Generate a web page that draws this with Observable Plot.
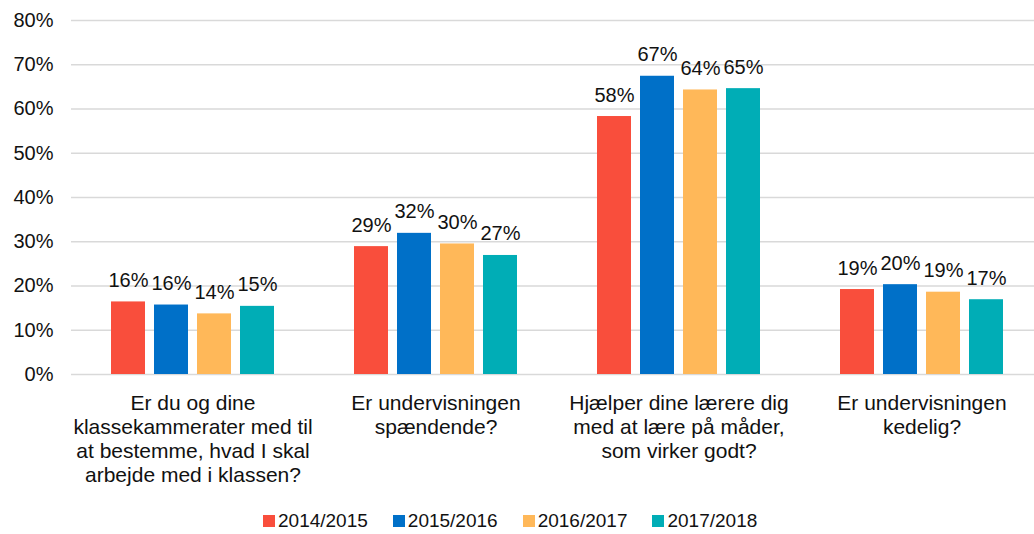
<!DOCTYPE html>
<html>
<head>
<meta charset="utf-8">
<script src="https://cdn.jsdelivr.net/npm/d3@7"></script>
<script src="https://cdn.jsdelivr.net/npm/@observablehq/plot@0.6"></script>
<style>
  html, body { margin: 0; padding: 0; background: #fff; overflow: hidden; }
  body { width: 1034px; height: 534px; position: relative; font-family: "Liberation Sans", Arial, sans-serif; }
  #chart { position: absolute; left: 0; top: 0; width: 1044px; }
  #chart svg { max-width: none !important; }
  #legend { position: absolute; left: 263px; top: 509px; display: flex; align-items: center; font-size: 19px; color: #111; line-height: 24px; }
  #legend .item { display: flex; align-items: center; margin-right: 25px; }
  #legend .sw { width: 12px; height: 12px; margin-right: 3px; }
</style>
</head>
<body>
<div id="chart"></div>
<div id="legend"></div>
<script>
const questions = [
  "Er du og dine\nklassekammerater med til\nat bestemme, hvad I skal\narbejde med i klassen?",
  "Er undervisningen\nspændende?",
  "Hjælper dine lærere dig\nmed at lære på måder,\nsom virker godt?",
  "Er undervisningen\nkedelig?"
];
const years = ["2014/2015", "2015/2016", "2016/2017", "2017/2018"];
const colors = ["#f94e3c", "#0070c8", "#ffb859", "#00adb6"];
const v2014 = [16.4, 28.9, 58.3, 19.2];
const v2015 = [15.7, 31.9, 67.4, 20.3];
const v2016 = [13.7, 29.5, 64.3, 18.6];
const v2017 = [15.4, 26.9, 64.6, 16.9];
const yTicks = [0, 10, 20, 30, 40, 50, 60, 70, 80];

const series = [v2014, v2015, v2016, v2017];
const data = [];
questions.forEach((q, i) => {
  years.forEach((yr, j) => {
    data.push({q, year: yr, value: series[j][i]});
  });
});

const textColor = "#111";
const chart = Plot.plot({
  width: 1044,
  height: 490,
  marginLeft: 70,
  marginRight: 0,
  marginTop: 20,
  marginBottom: 116,
  style: {fontFamily: "Liberation Sans, Arial, sans-serif", fontSize: "20px", color: textColor, background: "#fff", maxWidth: "none"},
  fx: {domain: questions, padding: 0, label: null, axis: null},
  x: {domain: years, paddingInner: 0.2, paddingOuter: 0.9, axis: null},
  y: {domain: [0, 80], ticks: yTicks, label: null},
  color: {domain: years, range: colors},
  marks: [
    Plot.gridY(yTicks, {stroke: "#d9d9d9", strokeOpacity: 1, strokeWidth: 1.5}),
    Plot.axisY(yTicks, {tickSize: 0, tickPadding: 18, tickFormat: d => d + "%", fontSize: 20, fill: textColor, label: null}),
    Plot.axisFx({anchor: "bottom", tickSize: 0, tickPadding: 18, fontSize: 21, lineHeight: 1.15, fill: textColor, label: null}),
    Plot.barY(data, {fx: "q", x: "year", y: "value", fill: "year"}),
    Plot.text(data, {fx: "q", x: "year", y: "value", text: d => Math.round(d.value) + "%", dy: -15, lineAnchor: "bottom", fontSize: 20, fill: textColor})
  ]
});
chart.style.maxWidth = "none";
document.getElementById("chart").appendChild(chart);

const legend = document.getElementById("legend");
years.forEach((yr, j) => {
  const it = document.createElement("div");
  it.className = "item";
  const sw = document.createElement("div");
  sw.className = "sw";
  sw.style.background = colors[j];
  const t = document.createElement("span");
  t.textContent = yr;
  it.appendChild(sw);
  it.appendChild(t);
  legend.appendChild(it);
});
</script>
</body>
</html>
